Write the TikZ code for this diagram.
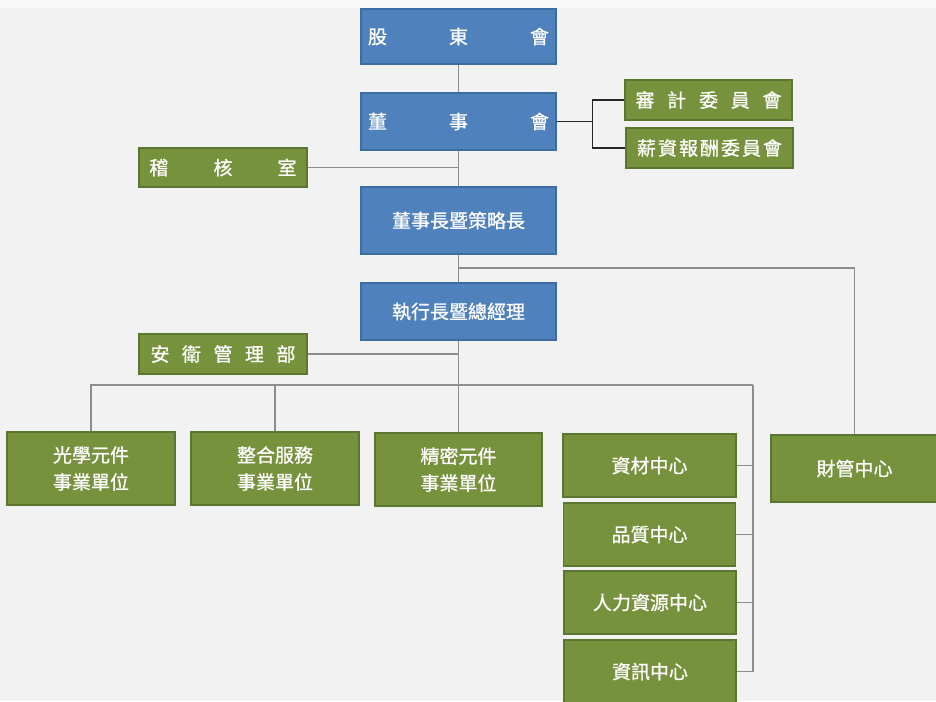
\documentclass[tikz,border=0pt]{standalone}
\usepackage{fontspec}
\setmainfont{Noto Sans CJK TC}[FakeBold=0.8]
\usepackage{tikz}

\definecolor{bgcol}{HTML}{F2F2F2}
\definecolor{topcol}{HTML}{F8F8F8}
\definecolor{boardblue}{HTML}{4F81BD}
\definecolor{boardedge}{HTML}{3D6CA3}
\definecolor{unitgreen}{HTML}{76923C}
\definecolor{unitedge}{HTML}{5B7630}
\definecolor{linkgray}{HTML}{8E8E8E}
\definecolor{bracketcol}{HTML}{262626}

\newcommand{\spread}[2]{\makebox[#1][s]{#2}}

\tikzset{
  bluebox/.style={draw=boardedge, fill=boardblue, line width=1.2pt, text=white,
    inner sep=0pt, font=\fontsize{19}{27}\selectfont, align=center},
  greenbox/.style={draw=unitedge, fill=unitgreen, line width=1.2pt, text=white,
    inner sep=0pt, font=\fontsize{19}{27}\selectfont, align=center},
  link/.style={draw=linkgray, line width=1.4pt},
  bracket/.style={draw=bracketcol, line width=1.6pt}
}

\begin{document}
\begin{tikzpicture}[x=1pt, y=-1pt]
% Background
\useasboundingbox (0,0) rectangle (936,701);
\fill[bgcol] (0,0) rectangle (936,701);
\fill[topcol] (0,0) rectangle (936,8);

% Board
\node[bluebox, minimum width=195pt, minimum height=55pt] (gdh) at (458.5,36.5) {\spread{181pt}{股\hfill 東\hfill 會}};
\node[bluebox, minimum width=195pt, minimum height=57pt] (dsh) at (458.5,121.5) {\spread{181pt}{董\hfill 事\hfill 會}};
\node[greenbox, minimum width=167pt, minimum height=40pt] (sj) at (708.5,100) {\spread{146pt}{審\hfill 計\hfill 委\hfill 員\hfill 會}};
\node[greenbox, minimum width=167pt, minimum height=40pt] (xc) at (709.5,148) {\spread{145pt}{薪\hfill 資\hfill 報\hfill 酬\hfill 委\hfill 員\hfill 會}};
\node[greenbox, minimum width=168pt, minimum height=39pt] (jh) at (223,167.5) {\spread{147pt}{稽\hfill 核\hfill 室}};

% Chairman and CEO
\node[bluebox, minimum width=195pt, minimum height=67pt] (dsz) at (458.5,220.5) {董事長暨策略長};
\node[bluebox, minimum width=195pt, minimum height=57pt] (zxz) at (458.5,311.5) {執行長暨總經理};
\node[greenbox, minimum width=168pt, minimum height=40pt] (aw) at (223,354) {\spread{145pt}{安\hfill 衛\hfill 管\hfill 理\hfill 部}};

% Business units
\node[greenbox, minimum width=168pt, minimum height=73pt] (gx) at (91,468.5) {光學元件\\事業單位};
\node[greenbox, minimum width=168pt, minimum height=73pt] (zh) at (275,468.5) {整合服務\\事業單位};
\node[greenbox, minimum width=167pt, minimum height=73pt] (jm) at (458.5,469.5) {精密元件\\事業單位};

% Centers
\node[greenbox, minimum width=173pt, minimum height=63pt] (zc) at (649.5,465.5) {資材中心};
\node[greenbox, minimum width=172pt, minimum height=63pt] (pz) at (649.5,534.5) {品質中心};
\node[greenbox, minimum width=172pt, minimum height=63pt] (rl) at (650,602.5) {人力資源中心};
\node[greenbox, minimum width=172pt, minimum height=63pt] (zx) at (650,671.5) {資訊中心};
\node[greenbox, minimum width=167pt, minimum height=67pt] (cg) at (854.5,468.5) {財管中心};

% Connectors
\coordinate (fin) at (458.5,268);
\coordinate (bus) at (458.5,385);
\coordinate (rbus) at (753,385);
\draw[link] (gdh.south) -- (dsh.north);
\draw[link] (dsh.south) -- (dsz.north);
\draw[link] (jh.east) -- (jh.east -| dsh.south);
\draw[link] (dsz.south) -- (zxz.north);
\draw[link] (fin) -| (cg.north);
\draw[link] (zxz.south) -- (jm.north);
\draw[link] (aw.east) -- (aw.east -| zxz.south);
\draw[link] (gx.north) |- (rbus);
\draw[link] (zh.north) -- (zh.north |- bus);
\draw[link] (rbus) |- (zx.east);
\foreach \c in {zc, pz, rl}
  \draw[link] (\c.east) -- (\c.east -| rbus);

% Committees
\draw[bracket] (dsh.east) -- ++(36,0) coordinate (br);
\draw[bracket] (sj.west) -| (br) |- (xc.west);
\end{tikzpicture}
\end{document}
